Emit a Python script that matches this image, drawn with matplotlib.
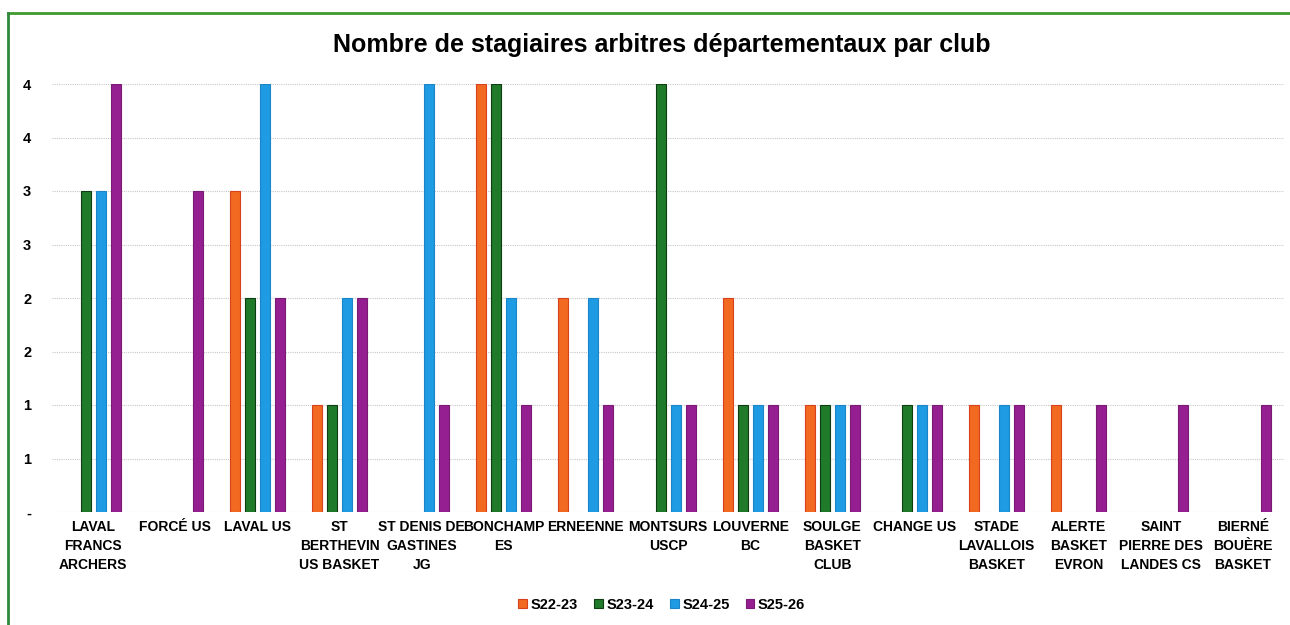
import numpy as np
import matplotlib
matplotlib.use("Agg")
import matplotlib.pyplot as plt
import matplotlib.ticker as mticker
from matplotlib.lines import Line2D

# Données (nombre de stagiaires par saison)
clubs = [
    "LAVAL\nFRANCS\nARCHERS", "FORCÉ US", "LAVAL US", "ST\nBERTHEVIN\nUS BASKET",
    "ST DENIS DE\nGASTINES\nJG", "BONCHAMP\nES", "ERNEENNE", "MONTSURS\nUSCP",
    "LOUVERNE\nBC", "SOULGE\nBASKET\nCLUB", "CHANGE US", "STADE\nLAVALLOIS\nBASKET",
    "ALERTE\nBASKET\nEVRON", "SAINT\nPIERRE DES\nLANDES CS", "BIERNÉ\nBOUÈRE\nBASKET",
]
saisons = ["S22-23", "S23-24", "S24-25", "S25-26"]
s22_23 = [0, 0, 3, 1, 0, 4, 2, 0, 2, 1, 0, 1, 1, 0, 0]
s23_24 = [3, 0, 2, 1, 0, 4, 0, 4, 1, 1, 1, 0, 0, 0, 0]
s24_25 = [3, 0, 4, 2, 4, 2, 2, 1, 1, 1, 1, 1, 0, 0, 0]
s25_26 = [4, 3, 2, 2, 1, 1, 1, 1, 1, 1, 1, 1, 1, 1, 1]

couleurs = ["#F26A21", "#1F7A2A", "#1E9BE3", "#951F90"]
bords = ["#D9411C", "#0E3D12", "#1A86C8", "#7A1A74"]

plt.rcParams["font.family"] = "Liberation Sans"

fig = plt.figure(figsize=(12.9, 6.25), dpi=100, facecolor="white")
ax = fig.add_axes([0.0403, 0.1808, 0.9551, 0.6848])

x = np.arange(len(clubs))
pas = 0.183
larg = 0.122
for i, (vals, c, b) in enumerate(zip([s22_23, s23_24, s24_25, s25_26], couleurs, bords)):
    v = np.array(vals, dtype=float)
    v[v == 0] = np.nan  # pas de barre quand la valeur est nulle
    ax.bar(x + (i - 1.5) * pas, v, width=larg, color=c, edgecolor=b,
           linewidth=0.8, label=saisons[i], zorder=3)

ax.set_xlim(-0.5, len(clubs) - 0.5)
ax.set_ylim(0, 4)
ax.set_yticks(np.arange(0, 4.01, 0.5))


def fmt_excel(y, _):
    # format Excel "#,##0" : arrondi à l'entier, tiret pour zéro
    if abs(y) < 1e-9:
        return "-"
    return f"{int(np.floor(y + 0.5))}"


ax.yaxis.set_major_formatter(mticker.FuncFormatter(fmt_excel))
ax.grid(axis="y", color="#C8C8C8", linestyle=(0, (1, 1)), linewidth=0.8, zorder=0)
for s in ax.spines.values():
    s.set_visible(False)
ax.tick_params(axis="y", length=0, pad=15, labelsize=10.5)
ax.tick_params(axis="x", length=0, pad=6)
for lab in ax.get_yticklabels():
    lab.set_fontweight("bold")

ax.set_xticks(x)
ax.set_xticklabels(clubs, fontsize=10, fontweight="bold", linespacing=1.45,
                   ha="center", va="top")

fig.text(0.513, 0.928, "Nombre de stagiaires arbitres départementaux par club",
         ha="center", va="center", fontsize=18, fontweight="bold")

leg = ax.legend(loc="center", ncol=4, frameon=False,
                handlelength=0.6, handleheight=0.6,
                handletextpad=0.25, columnspacing=1.1,
                prop={"weight": "bold", "size": 10.5})
leg.set_bbox_to_anchor((0.513, 0.032), transform=fig.transFigure)

# cadre vert de la capture
fig.add_artist(Line2D([8 / 1290, 1], [1 - 13 / 625, 1 - 13 / 625], color="#3E9B2E",
                      linewidth=2, transform=fig.transFigure))
fig.add_artist(Line2D([8 / 1290, 8 / 1290], [0, 1 - 13 / 625], color="#2E8A3A",
                      linewidth=2, transform=fig.transFigure))

fig.savefig("out.png", dpi=100, facecolor="white")
